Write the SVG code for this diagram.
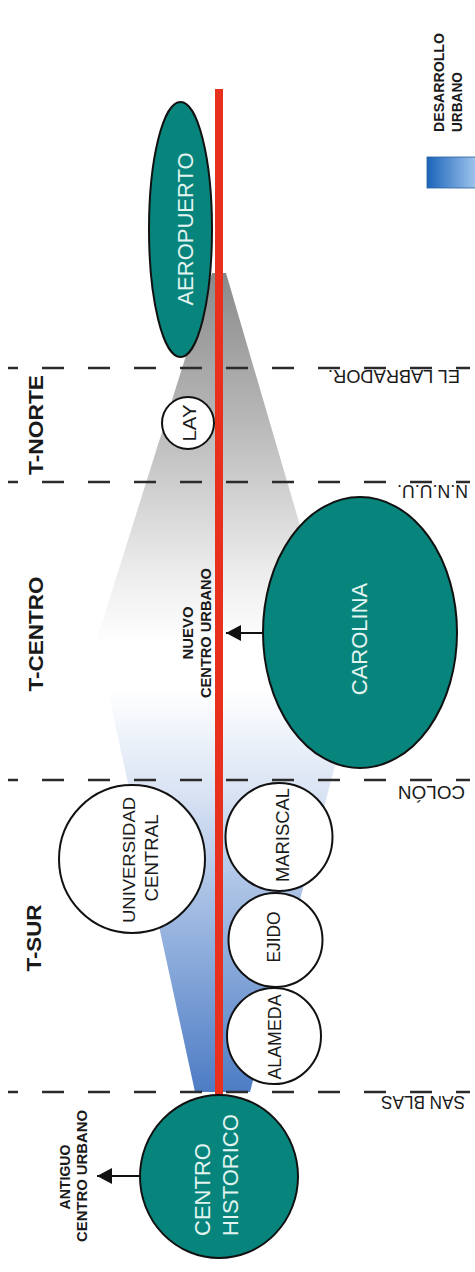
<svg xmlns="http://www.w3.org/2000/svg" width="475" height="1272" viewBox="0 0 475 1272">
  <defs>
    <linearGradient id="gSur" gradientUnits="userSpaceOnUse" x1="0" y1="1092" x2="0" y2="690">
      <stop offset="0" stop-color="#4d7cc4"/>
      <stop offset="0.35" stop-color="#8eaddc"/>
      <stop offset="0.75" stop-color="#dae4f4"/>
      <stop offset="1" stop-color="#ffffff"/>
    </linearGradient>
    <linearGradient id="gNorte" gradientUnits="userSpaceOnUse" x1="0" y1="273" x2="0" y2="645">
      <stop offset="0" stop-color="#8a8a8a"/>
      <stop offset="0.4" stop-color="#b8b8b8"/>
      <stop offset="0.8" stop-color="#ececec"/>
      <stop offset="1" stop-color="#ffffff"/>
    </linearGradient>
    <linearGradient id="gLegend" gradientUnits="userSpaceOnUse" x1="427" y1="0" x2="480" y2="0">
      <stop offset="0" stop-color="#1a64bb"/>
      <stop offset="1" stop-color="#a9ccef"/>
    </linearGradient>
    <marker id="head" markerUnits="userSpaceOnUse" markerWidth="15" markerHeight="16" refX="15" refY="8" orient="auto">
      <path d="M0,0 L15,8 L0,16 Z" fill="#111"/>
    </marker>
  </defs>
  <style>
    .lbl{font-family:"Liberation Sans",Arial,sans-serif}
    .teal{fill:#07857d;stroke:#111;stroke-width:2}
    .site{fill:#fff;stroke:#111;stroke-width:2}
    .tw{fill:#e2f4f0;font-size:22px}
    .tb{fill:#1a1a1a;font-size:18px}
    .tag{fill:#1a1a1a;font-size:15px;font-weight:bold}
    .zone{fill:#1a1a1a;font-size:21px;font-weight:bold}
    .stop{fill:#1a1a1a;font-size:18px}
    .dash{stroke:#2b2b2b;stroke-width:2.5;stroke-dasharray:22 24;stroke-dashoffset:12;fill:none}
    .arrow{stroke:#111;stroke-width:2;fill:none;marker-end:url(#head)}
  </style>

  <rect width="475" height="1272" fill="#fff"/>

  <!-- urban development fans -->
  <g id="fans">
    <polygon points="195,1092 250,1092 365,650 99,650" fill="url(#gSur)"/>
    <polygon points="212,273 226,273 335,645 95,645" fill="url(#gNorte)"/>
  </g>

  <!-- section boundaries -->
  <g id="boundaries">
    <line class="dash" x1="8" y1="1092" x2="470" y2="1092"/>
    <line class="dash" x1="8" y1="780" x2="470" y2="780"/>
    <line class="dash" x1="8" y1="482" x2="470" y2="482"/>
    <line class="dash" x1="8" y1="368" x2="470" y2="368"/>
  </g>

  <!-- trolley axis -->
  <g id="axis">
    <line x1="219" y1="89" x2="219" y2="1096" stroke="#e8301e" stroke-width="8"/>
  </g>

  <!-- stop names -->
  <g id="stops" class="lbl stop">
    <text transform="translate(465,1096) rotate(180)" textLength="84" lengthAdjust="spacingAndGlyphs">SAN BLAS</text>
    <text transform="translate(465,786) rotate(180)" textLength="67" lengthAdjust="spacingAndGlyphs">COLÓN</text>
    <text transform="translate(468,485) rotate(180)" textLength="71" lengthAdjust="spacingAndGlyphs">N.N.U.U.</text>
    <text transform="translate(460,370) rotate(180)" textLength="132" lengthAdjust="spacingAndGlyphs">EL LABRADOR.</text>
  </g>

  <!-- sections -->
  <g id="sections" class="lbl zone" text-anchor="middle">
    <text transform="translate(41,938) rotate(-90)" textLength="67" lengthAdjust="spacingAndGlyphs">T-SUR</text>
    <text transform="translate(43,634) rotate(-90)" textLength="115" lengthAdjust="spacingAndGlyphs">T-CENTRO</text>
    <text transform="translate(43,425) rotate(-90)" textLength="100" lengthAdjust="spacingAndGlyphs">T-NORTE</text>
  </g>

  <!-- districts -->
  <g id="centro-historico">
    <ellipse class="teal" cx="219" cy="1176.5" rx="79" ry="81.5"/>
    <text class="lbl tw" transform="translate(210,1236) rotate(-90)">CENTRO</text>
    <text class="lbl tw" transform="translate(238,1236) rotate(-90)">HISTORICO</text>
  </g>

  <g id="alameda">
    <ellipse class="site" cx="274" cy="1036" rx="47" ry="48"/>
    <text class="lbl tb" text-anchor="middle" transform="translate(281,1037) rotate(-90)" textLength="85" lengthAdjust="spacingAndGlyphs">ALAMEDA</text>
  </g>

  <g id="ejido">
    <ellipse class="site" cx="275.5" cy="940" rx="47" ry="47"/>
    <text class="lbl tb" text-anchor="middle" transform="translate(280,937) rotate(-90)" textLength="51" lengthAdjust="spacingAndGlyphs">EJIDO</text>
  </g>

  <g id="mariscal">
    <ellipse class="site" cx="279" cy="837" rx="53.5" ry="54"/>
    <text class="lbl tb" text-anchor="middle" transform="translate(289,835) rotate(-90)" textLength="94" lengthAdjust="spacingAndGlyphs">MARISCAL</text>
  </g>

  <g id="universidad-central">
    <ellipse class="site" cx="132" cy="859" rx="73" ry="74"/>
    <text class="lbl tb" style="font-size:17px" text-anchor="middle" transform="translate(135,860) rotate(-90)" textLength="126" lengthAdjust="spacingAndGlyphs">UNIVERSIDAD</text>
    <text class="lbl tb" text-anchor="middle" transform="translate(158,858) rotate(-90)" textLength="87" lengthAdjust="spacingAndGlyphs">CENTRAL</text>
  </g>

  <g id="carolina">
    <ellipse class="teal" cx="360" cy="632.5" rx="97" ry="135.5"/>
    <text class="lbl tw" text-anchor="middle" transform="translate(367,639) rotate(-90)">CAROLINA</text>
  </g>

  <g id="lay">
    <ellipse class="site" cx="188" cy="423" rx="26" ry="26"/>
    <text class="lbl tb" text-anchor="middle" transform="translate(196,423) rotate(-90)" textLength="37" lengthAdjust="spacingAndGlyphs">LAY</text>
  </g>

  <g id="aeropuerto">
    <ellipse class="teal" cx="180.5" cy="229.5" rx="31.5" ry="127.5"/>
    <text class="lbl tw" text-anchor="middle" transform="translate(193,229) rotate(-90)">AEROPUERTO</text>
  </g>

  <!-- centre callouts -->
  <g id="connectors">
    <line class="arrow" x1="140" y1="1176" x2="97" y2="1176"/>
    <line class="arrow" x1="263" y1="633" x2="226" y2="633"/>
  </g>

  <g id="antiguo-centro" class="lbl tag" text-anchor="middle">
    <text transform="translate(70,1177) rotate(-90)" textLength="65" lengthAdjust="spacingAndGlyphs">ANTIGUO</text>
    <text transform="translate(87,1176) rotate(-90)" textLength="132" lengthAdjust="spacingAndGlyphs">CENTRO URBANO</text>
  </g>

  <g id="nuevo-centro" class="lbl tag" text-anchor="middle">
    <text transform="translate(193,633) rotate(-90)" textLength="53" lengthAdjust="spacingAndGlyphs">NUEVO</text>
    <text transform="translate(211,633) rotate(-90)" textLength="130" lengthAdjust="spacingAndGlyphs">CENTRO URBANO</text>
  </g>

  <!-- legend -->
  <g id="legend">
    <rect x="427" y="157" width="50" height="31" fill="url(#gLegend)" stroke="#2c5f9e" stroke-width="0.8"/>
    <text class="lbl" style="font-size:14px;font-weight:bold;fill:#1a1a1a" transform="translate(444,132) rotate(-90)" textLength="99" lengthAdjust="spacingAndGlyphs">DESARROLLO</text>
    <text class="lbl" style="font-size:14px;font-weight:bold;fill:#1a1a1a" transform="translate(462,132) rotate(-90)" textLength="60" lengthAdjust="spacingAndGlyphs">URBANO</text>
  </g>
</svg>
